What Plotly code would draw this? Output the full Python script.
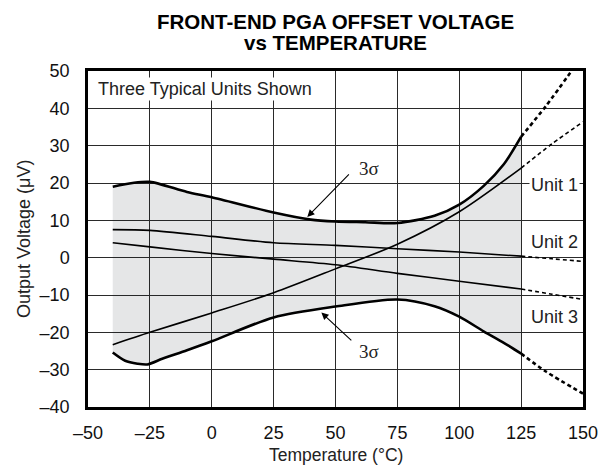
import plotly.graph_objects as go

# ---- data ----
sigma_up_x = [-40, -32, -25, -10, 0, 25, 40, 50, 62, 75, 90, 100, 110, 118, 125]
sigma_up_y = [19, 20, 20.3, 17.6, 16.2, 12.1, 10.2, 9.7, 9.5, 9.3, 11.2, 14.2, 19.3, 25.0, 32.4]
sigma_up_ext_x = [125, 135, 147]
sigma_up_ext_y = [32.4, 40.6, 51.5]

sigma_lo_x = [-40, -35, -30, -26, -20, -10, 0, 25, 50, 75, 90, 100, 110, 118, 125]
sigma_lo_y = [-25.4, -27.6, -28.4, -28.6, -27.1, -24.8, -22.4, -16.0, -13.1, -11.2, -13.0, -15.8, -19.8, -22.8, -25.7]
sigma_lo_ext_x = [125, 135, 150]
sigma_lo_ext_y = [-25.7, -30.5, -36.4]

unit_x = [-40, -25, 0, 25, 50, 75, 100, 125]
unit1_y = [-23.3, -20.0, -14.8, -9.4, -3.0, 3.6, 12.3, 24.0]
unit2_y = [7.5, 7.3, 5.7, 4.0, 3.3, 2.4, 1.5, 0.4]
unit3_y = [4.0, 2.9, 1.1, -0.4, -1.9, -4.2, -6.3, -8.4]
ext_x = [125, 137.5, 150]
unit1_ext_y = [24.0, 30.5, 36.4]
unit2_ext_y = [0.4, -0.3, -1.0]
unit3_ext_y = [-8.4, -9.8, -11.2]

x_ticks = [-50, -25, 0, 25, 50, 75, 100, 125, 150]
y_ticks = [-40, -30, -20, -10, 0, 10, 20, 30, 40, 50]

def lab(v):
    return ("–" + str(abs(v))) if v < 0 else str(v)

FONT = "Liberation Sans, Arial, Helvetica, sans-serif"
fig = go.Figure()

# shaded 3-sigma region (invisible boundary traces + tonexty fill)
fig.add_trace(go.Scatter(x=sigma_lo_x, y=sigma_lo_y, mode="lines", hoverinfo="skip",
                         line=dict(width=0, shape="spline", smoothing=0.8)))
fig.add_trace(go.Scatter(x=sigma_up_x, y=sigma_up_y, mode="lines", hoverinfo="skip",
                         fill="tonexty", fillcolor="rgba(20,25,40,0.11)",
                         line=dict(width=0, shape="spline", smoothing=0.8)))

thick = dict(color="black", width=2.6, shape="spline", smoothing=0.8)
thin = dict(color="black", width=1.6, shape="spline", smoothing=0.8)

fig.add_trace(go.Scatter(x=sigma_up_x, y=sigma_up_y, mode="lines", line=thick))
fig.add_trace(go.Scatter(x=sigma_lo_x, y=sigma_lo_y, mode="lines", line=thick))
fig.add_trace(go.Scatter(x=sigma_up_ext_x, y=sigma_up_ext_y, mode="lines",
                         line=dict(thick, dash="4px,3px")))
fig.add_trace(go.Scatter(x=sigma_lo_ext_x, y=sigma_lo_ext_y, mode="lines",
                         line=dict(thick, dash="4px,3px")))
for yv, ye in [(unit1_y, unit1_ext_y), (unit2_y, unit2_ext_y), (unit3_y, unit3_ext_y)]:
    fig.add_trace(go.Scatter(x=unit_x, y=yv, mode="lines", line=thin))
    fig.add_trace(go.Scatter(x=ext_x, y=ye, mode="lines", line=dict(thin, dash="4px,3px")))

# annotations
ann = []
ann.append(dict(x=0.5, y=1.0, xref="paper", yref="paper", yshift=50, showarrow=False,
                text="<b>FRONT-END PGA OFFSET VOLTAGE</b>",
                font=dict(family=FONT, size=20.5, color="black"), yanchor="middle"))
ann.append(dict(x=0.5, y=1.0, xref="paper", yref="paper", yshift=29, showarrow=False,
                text="<b>vs TEMPERATURE</b>",
                font=dict(family=FONT, size=20.5, color="black"), yanchor="middle"))
ann.append(dict(x=0.5, y=0.0, xref="paper", yref="paper", yshift=-48, showarrow=False,
                text="Temperature (°C)", yanchor="middle",
                font=dict(family=FONT, size=17.5, color="#222")))
ann.append(dict(x=0.0, y=0.5, xref="paper", yref="paper", xshift=-64, showarrow=False,
                text="Output Voltage (μV)", textangle=-90, xanchor="center",
                font=dict(family=FONT, size=18, color="#222")))
ann.append(dict(x=-46.6, y=45.2, xref="x", yref="y", xanchor="left", showarrow=False,
                text="Three Typical Units Shown", bgcolor="white",
                font=dict(family=FONT, size=18, color="#222")))
for t, yv in [("Unit 1", 19.5), ("Unit 2", 4.3), ("Unit 3", -15.8)]:
    ann.append(dict(x=138.6, y=yv, xref="x", yref="y", showarrow=False, text=t,
                    bgcolor="white", font=dict(family=FONT, size=18, color="#222")))
for yv in [24, -25]:
    ann.append(dict(x=63.5, y=yv, xref="x", yref="y", showarrow=False, text="3σ",
                    font=dict(family="Liberation Serif, Times New Roman, serif", size=19, color="#222")))
ann.append(dict(x=38.6, y=10.9, ax=56, ay=22.7, xref="x", yref="y", axref="x", ayref="y",
                text="", showarrow=True, arrowhead=2, arrowsize=1.3, arrowwidth=1.1, arrowcolor="black"))
ann.append(dict(x=44.3, y=-14.7, ax=57, ay=-22.5, xref="x", yref="y", axref="x", ayref="y",
                text="", showarrow=True, arrowhead=2, arrowsize=1.3, arrowwidth=1.1, arrowcolor="black"))

fig.update_layout(
    width=613, height=472, showlegend=False,
    margin=dict(l=88, r=30, t=71, b=65, autoexpand=False),
    paper_bgcolor="white", plot_bgcolor="white",
    font=dict(family=FONT, size=18, color="black"),
    annotations=ann,
)
fig.update_xaxes(range=[-50, 150], tickvals=x_ticks, ticktext=[lab(v) for v in x_ticks],
                 showgrid=True, gridcolor="#2a2a2a", gridwidth=1, zeroline=False,
                 showline=True, linecolor="black", linewidth=2.5, mirror=True,
                 ticks="", tickfont=dict(size=18, color="#111"), automargin=False,
                 ticklabelstandoff=8)
fig.update_yaxes(range=[-40, 50], tickvals=y_ticks, ticktext=[lab(v) for v in y_ticks],
                 showgrid=True, gridcolor="#2a2a2a", gridwidth=1, zeroline=False,
                 showline=True, linecolor="black", linewidth=2.5, mirror=True,
                 ticks="", tickfont=dict(size=18, color="#111"), automargin=False,
                 ticklabelstandoff=12)

fig.write_html("out.html", config={"displayModeBar": False},
               post_script="document.body.style.margin='0';document.body.style.overflow='hidden';")
